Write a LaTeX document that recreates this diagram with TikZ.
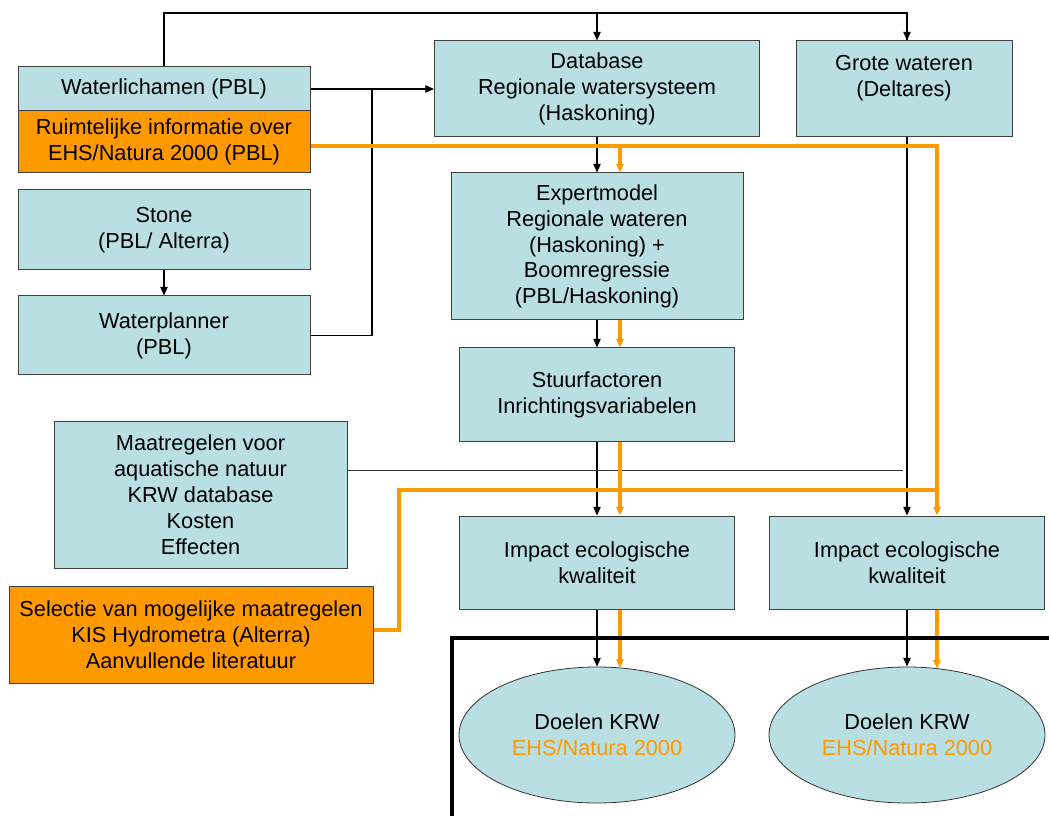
\documentclass[tikz,border=0pt]{standalone}
\usepackage{fontspec}
\setmainfont{Liberation Sans}
\usetikzlibrary{arrows.meta,shapes.geometric}
\definecolor{boxblue}{HTML}{B9DFE3}
\definecolor{orng}{HTML}{FF9900}
\def\pxu{0.75pt}
\tikzset{
  box/.style={draw=black!75,fill=boxblue,line width=0.75pt,align=center,inner sep=1pt},
  obox/.style={box,fill=orng},
  goal/.style={ellipse,draw=black!80,fill=boxblue,line width=0.6pt,align=center,inner sep=0pt,
    minimum width=276*\pxu,minimum height=136*\pxu},
  arr/.style={-{Triangle[length=6.5pt,width=5.5pt]},line width=0.9pt},
  oline/.style={orng,line width=2.3pt},
  oarr/.style={oline,-{Triangle[length=6.5pt,width=5.5pt]}}
}
\begin{document}
\begin{tikzpicture}[x=\pxu,y=-\pxu,font=\fontsize{16.3}{19.4}\selectfont]
\useasboundingbox (0,0) rectangle (1049,816);

% left column
\node[box,minimum width=292*\pxu,minimum height=44*\pxu] (wl) at (164,89) {Waterlichamen (PBL)};
\node[obox,minimum width=292*\pxu,minimum height=62*\pxu] (ri) at (164,142) {Ruimtelijke informatie over\\EHS/Natura 2000 (PBL)};
\node[box,minimum width=292*\pxu,minimum height=80*\pxu] (stone) at (164,230) {Stone\\(PBL/ Alterra)};
\node[box,minimum width=292*\pxu,minimum height=79*\pxu] (wp) at (164,335.5) {Waterplanner\\(PBL)};
\node[box,minimum width=293*\pxu,minimum height=147*\pxu] (maat) at (200.5,494.5) {Maatregelen voor\\aquatische natuur\\KRW database\\Kosten\\Effecten};
\node[obox,minimum width=364*\pxu,minimum height=97*\pxu] (sel) at (191,634.5) {Selectie van mogelijke maatregelen\\KIS Hydrometra (Alterra)\\Aanvullende literatuur};

% middle and right column
\node[box,minimum width=325*\pxu,minimum height=96*\pxu] (db) at (597,89) {Database\\Regionale watersysteem\\(Haskoning)};
\node[box,minimum width=216*\pxu,minimum height=96*\pxu] (grote) at (904,89) {Grote wateren\\(Deltares)\\\mbox{}};
\node[box,minimum width=292*\pxu,minimum height=147*\pxu] (expert) at (597,246.5) {Expertmodel\\Regionale wateren\\(Haskoning) +\\Boomregressie\\(PBL/Haskoning)};
\node[box,minimum width=275*\pxu,minimum height=93*\pxu] (stuur) at (597,394.5) {Stuurfactoren\\Inrichtingsvariabelen};
\node[box,minimum width=275*\pxu,minimum height=93*\pxu] (imp1) at (597,562.5) {Impact ecologische\\kwaliteit};
\node[box,minimum width=275*\pxu,minimum height=93*\pxu] (imp2) at (907,562.5) {Impact ecologische\\kwaliteit};
\node[goal] (doel1) at (597,735) {Doelen KRW\\\textcolor{orng}{EHS/Natura 2000}};
\node[goal] (doel2) at (907,735) {Doelen KRW\\\textcolor{orng}{EHS/Natura 2000}};

% helper points
\coordinate (topbar) at (0,13);
\coordinate (jn) at (372,89);
\coordinate (mj) at (907,470);
\coordinate (o1) at (620,146);
\coordinate (o2) at (937,146);
\coordinate (omid) at (937,490);
\coordinate (osel) at (399,490);

% black connectors
\draw[line width=0.9pt] (wl.north) |- (topbar -| imp2.north) -- (grote.north -| imp2.north);
\draw[arr] (topbar -| db.north) -- (db.north);
\draw[arr] (topbar -| imp2.north) -- (grote.north -| imp2.north);
\draw[arr] (wl.east) -- (db.west);
\draw[line width=0.9pt] (wp.east) -| (jn);
\draw[arr] (stone) -- (wp);
\draw[arr] (db) -- (expert);
\draw[arr] (expert) -- (stuur);
\draw[arr] (stuur) -- (imp1);
\draw[arr] (imp1) -- (doel1);
\draw[arr] (grote.south -| imp2.north) -- (imp2.north);
\draw[arr] (imp2) -- (doel2);
\draw[line width=0.75pt,black!80] (maat.east |- mj) -- ([xshift=-3pt]mj);

% orange connectors
\draw[oline] (ri.east |- o1) -- (o2) -- (omid);
\draw[oarr] (omid) -- (imp2.north -| omid);
\draw[oline] (sel.east |- 0,630) -| (osel) -- (omid);
\draw[oarr] (o1) -- (expert.north -| o1);
\draw[oarr] (expert.south -| o1) -- (stuur.north -| o1);
\draw[oarr] (stuur.south -| o1) -- (imp1.north -| o1);
\draw[oarr] (imp1.south -| o1) -- ([yshift=-1pt]doel1.north -| o1);
\draw[oarr] (imp2.south -| omid) -- ([yshift=-1.5pt]doel2.north -| omid);

% frame
\draw[line width=2.3pt] (452,816) |- (1049,638);
\end{tikzpicture}
\end{document}
